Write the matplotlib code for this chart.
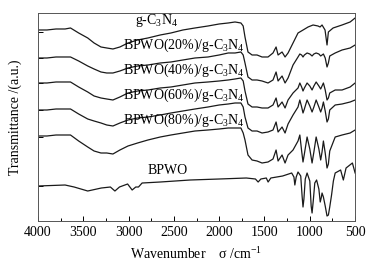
import matplotlib
matplotlib.use("Agg")
import matplotlib.pyplot as plt
from matplotlib.ticker import MultipleLocator

plt.rcParams['font.family'] = ['Liberation Serif', 'DejaVu Serif']
plt.rcParams['mathtext.fontset'] = 'custom'
plt.rcParams['mathtext.rm'] = 'Liberation Serif'
plt.rcParams['mathtext.it'] = 'Liberation Serif:italic'

# common high-wavenumber grid (4000 - 1760 cm-1)
wn_hi = [4000, 3900, 3800, 3700, 3640, 3550, 3450, 3380, 3304, 3240, 3172, 3095,
         3006, 2900, 2786, 2650, 2532, 2400, 2267, 2123, 2000, 1900, 1825, 1760]

# g-C3N4
wn_cn = wn_hi + [1735, 1715, 1682, 1637, 1582, 1527, 1461, 1406, 1372, 1350, 1306,
                 1273, 1240, 1185, 1130, 1074, 1019, 964, 910, 887, 865, 832, 810,
                 795, 743, 644, 555, 500]
t_cn = [191, 191, 192, 192, 193, 188, 183, 178, 174, 173, 172, 174,
        178, 181, 183, 186, 188, 191, 193, 195, 197, 198, 199, 198,
        195, 184, 169, 166, 166, 164, 164, 168, 174, 166, 169,
        164, 168, 178, 188, 191, 194, 196, 195, 194, 196, 191, 176,
        189, 193, 196, 199, 203]

# grid for the composites
wn_comp = wn_hi + [1735, 1715, 1682, 1637, 1582, 1527, 1461, 1406, 1372, 1350, 1306,
                   1273, 1240, 1185, 1130,
                   1110, 1090, 1075, 1060, 1030, 1000, 975, 955, 930, 900, 880,
                   865, 850, 830, 810, 795, 780, 720, 644, 555, 500]

t_20 = [163, 163, 164, 164, 164, 160, 155, 152, 149, 148, 148, 150,
        153, 155, 156, 158, 159, 161, 163, 164, 166, 168, 168, 169,
        166, 158, 144, 141, 141, 140, 138, 141, 149, 140, 145,
        138, 143, 156, 164,
        167, 166, 164, 166, 168, 167, 165, 167, 168, 167, 165,
        166, 167, 163, 154, 158, 165, 168, 171, 173, 176]

t_40 = [138, 138, 139, 139, 139, 134, 129, 125, 123, 122, 121, 124,
        128, 130, 131, 133, 134, 136, 138, 139, 140, 141, 142, 143,
        140, 130, 117, 114, 114, 113, 113, 116, 123, 114, 119,
        113, 121, 128, 133,
        138, 134, 130, 133, 138, 135, 131, 135, 139, 135, 132,
        135, 138, 131, 121, 123, 128, 131, 131, 134, 138]

t_60 = [111, 111, 112, 112, 112, 107, 102, 100, 98, 96, 95, 98,
        101, 103, 104, 106, 108, 110, 112, 114, 116, 117, 118, 118,
        114, 104, 93, 90, 90, 88, 89, 91, 99, 89, 94,
        88, 97, 106, 114,
        121, 114, 108, 112, 121, 115, 109, 114, 121, 114, 109,
        113, 119, 110, 99, 102, 111, 116, 117, 119, 121]

t_80 = [85, 85, 86, 86, 86, 80, 74, 70, 68, 68, 67, 71,
        75, 78, 81, 84, 86, 88, 90, 91, 92, 93, 93, 93,
        88, 81, 66, 61, 60, 58, 59, 62, 71, 60, 66,
        58, 66, 71, 80,
        86, 70, 59, 67, 84, 72, 58, 69, 84, 72, 61,
        69, 80, 68, 53, 57, 70, 84, 86, 88, 91]

# BPWO
wn_bp = [4000, 3700, 3600, 3450, 3300, 3200, 3150, 3100, 3010, 2960,
         2920, 2890, 2850, 2650, 2320, 2000, 1700, 1600, 1570, 1540,
         1480, 1460, 1430, 1300, 1200, 1175, 1165, 1150, 1130, 1100,
         1085, 1075, 1065, 1050, 1030, 1000, 985, 975, 962, 945,
         925, 900, 885, 872, 865, 850, 830, 810, 795, 780,
         760, 740, 720, 660, 630, 600, 530, 500]
t_bp = [35, 36, 34, 30, 33, 34, 30, 34, 37, 31,
        34, 34, 38, 39, 41, 42, 43, 42, 39, 42,
        43, 39, 43, 45, 48, 44, 36, 44, 49, 45,
        25, 14, 22, 42, 48, 40, 15, 8, 20, 38,
        41, 32, 19, 24, 28, 24, 15, 5, 6, 14,
        26, 40, 48, 51, 41, 53, 58, 48]

curves = [(wn_cn, t_cn), (wn_comp, t_20), (wn_comp, t_40), (wn_comp, t_60),
          (wn_comp, t_80), (wn_bp, t_bp)]

labels = [r"g-C$_\mathrm{3}$N$_\mathrm{4}$",
          r"BPWO(20%)/g-C$_\mathrm{3}$N$_\mathrm{4}$",
          r"BPWO(40%)/g-C$_\mathrm{3}$N$_\mathrm{4}$",
          r"BPWO(60%)/g-C$_\mathrm{3}$N$_\mathrm{4}$",
          r"BPWO(80%)/g-C$_\mathrm{3}$N$_\mathrm{4}$",
          "BPWO"]
label_x = [2929, 3062, 3062, 3062, 3062, 2786]
label_y = [200, 176, 151, 126, 101, 51]

fig = plt.figure(figsize=(3.75, 2.65), dpi=100)
ax = fig.add_axes([0.101, 0.166, 0.846, 0.785])

for (wn, t) in curves:
    ax.plot(wn, t, color='#1a1a1a', lw=0.9)

for lab, lx, ly in zip(labels, label_x, label_y):
    ax.text(lx, ly, lab, fontsize=10, ha='left', va='center')

ax.set_xlim(4000, 500)
ax.set_ylim(0, 208)
ax.xaxis.set_major_locator(MultipleLocator(500))
ax.xaxis.set_minor_locator(MultipleLocator(250))
ax.set_yticks([189, 163, 138, 111, 84, 35])
ax.set_yticklabels([])
ax.tick_params(direction='in', which='major', length=3.5, width=0.7, labelsize=10)
ax.tick_params(direction='in', which='minor', length=2, width=0.7)
ax.tick_params(axis='y', which='minor', left=False)
for s in ax.spines.values():
    s.set_linewidth(0.7)
    s.set_color('#555555')

ax.set_xlabel(r"Wavenumber    σ /cm$^{-1}$", fontsize=10, labelpad=5)
ax.set_ylabel("Transmittance /(a.u.)", fontsize=10, labelpad=8)

fig.savefig("out.png", dpi=100)
